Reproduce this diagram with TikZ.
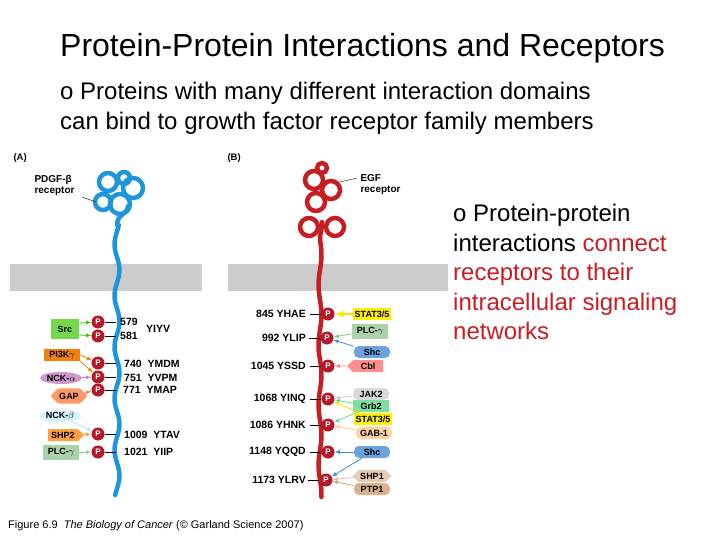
\documentclass[tikz,border=0pt]{standalone}
\usepackage{fontspec}
\setmainfont{Liberation Sans}
\usetikzlibrary{shapes,positioning}
\definecolor{pdgf}{RGB}{30,150,220}
\definecolor{egf}{RGB}{200,30,35}
\definecolor{pred}{RGB}{180,25,40}
\tikzset{
  phos/.style={circle,fill=pred,text=white,inner sep=0pt,minimum size=13pt,font=\fontsize{8}{8}\selectfont\bfseries},
  dom/.style={rounded corners=2pt,inner sep=1.5pt,minimum width=36pt,minimum height=12pt,font=\fontsize{9}{9}\selectfont\bfseries},
  site/.style={font=\fontsize{10.5}{11}\selectfont\bfseries,inner sep=1pt},
  body/.style={font=\fontsize{24}{29.5}\selectfont,align=left,anchor=north west,inner sep=0pt},
  memb/.style={fill=black!20,draw=none},
  coil/.style={line width=4.5pt,line cap=round},
  tie/.style={line width=1pt}
}
\begin{document}
\begin{tikzpicture}[x=1pt,y=-1pt,>=latex]
    \useasboundingbox (0,0) rectangle (720,540);
    % headings
    \node[anchor=west,inner sep=0pt,font=\fontsize{32}{36}\selectfont] (title) at (60,48) {Protein-Protein Interactions and Receptors};
    \node[body] (intro) at (60,82) {o Proteins with many different interaction domains\\can bind to growth factor receptor family members};
    \node[body] (side) at (453,204) {o Protein-protein\\interactions \textcolor{egf}{connect}\\\textcolor{egf}{receptors to their}\\\textcolor{egf}{intracellular signaling}\\\textcolor{egf}{networks}};
    \node[anchor=west,inner sep=0pt,font=\fontsize{11}{12}\selectfont] (cap) at (8,526) {Figure 6.9 \ \textit{The Biology of Cancer} (\textcopyright\ Garland Science 2007)};

    % membranes
    \fill[memb] (10,264) rectangle (202,291);
    \fill[memb] (228,264) rectangle (448,291);

    % panel A: PDGF-beta receptor
    \node[anchor=west,font=\fontsize{9.5}{10}\selectfont\bfseries] (lblA) at (10,158) {(A)};
    \node[anchor=west,align=left,font=\fontsize{10}{11}\selectfont\bfseries] (pdgf) at (31,185) {PDGF-β\\receptor};
    \draw[pdgf,coil] plot[smooth,domain=225:495,samples=80] ({117+2.5*sin(\x*7)},\x);
    \draw[pdgf,coil] (117,225) .. controls (117,214) and (128,214) .. (128,206);
    \draw[pdgf,coil] (108,182) circle (9);
    \draw[pdgf,coil] (133,188) circle (10);
    \draw[pdgf,coil] (120,204) circle (10);
    \draw[pdgf,coil] (103,202) circle (8);
    \draw[pdgf,coil] (124,178) circle (6);
    \draw (82,197) -- (96,202);

    \node[phos] (a1) at (98,322) {P};
    \node[phos] (a2) at (98,336) {P};
    \node[phos] (a3) at (98,363) {P};
    \node[phos] (a4) at (98,377) {P};
    \node[phos] (a5) at (98,390) {P};
    \node[phos] (a6) at (98,434) {P};
    \node[phos] (a7) at (98,452) {P};
    \foreach \p in {a1,a2,a3,a4,a5,a6,a7} \draw[tie] (\p) -- ++(18,0);
    \node[site,anchor=west] (s579) at (119,322) {579};
    \node[site,anchor=west] (s581) at (119,336) {581};
    \node[site,anchor=west] (yiyv) at (145,329) {YIYV};
    \node[site,anchor=west] (s740) at (123,364) {740 \ YMDM};
    \node[site,anchor=west] (s751) at (123,378) {751 \ YVPM};
    \node[site,anchor=west] (s771) at (122,390) {771 \ YMAP};
    \node[site,anchor=west] (s1009) at (123,435) {1009 \ YTAV};
    \node[site,anchor=west] (s1021) at (123,452) {1021 \ YIIP};

    \node[dom,fill=green!55!olive!70,minimum width=28pt,minimum height=20pt,rounded corners=0pt] (src) at (65,329) {Src};
    \node[dom,fill=orange!80!brown,rounded corners=0pt] (pi3k) at (62,355) {PI3K$\gamma$};
    \node[dom,fill=violet!40,ellipse,inner sep=0pt,minimum width=42pt] (ncka) at (61,378) {NCK-$\alpha$};
    \node[dom,fill=red!35!orange!60,chamfered rectangle,inner sep=1pt] (gap) at (69,396) {GAP};
    \node[dom,fill=cyan!15,ellipse,inner sep=0pt,minimum width=42pt] (nckb) at (60,416) {NCK-$\beta$};
    \node[dom,fill=orange!75,signal,signal to=east,rounded corners=0pt] (shp2a) at (63,435) {SHP2};
    \node[dom,fill=green!30!gray!50,rounded corners=0pt,minimum height=15pt] (plcga) at (61,452) {PLC-$\gamma$};
    \draw[->,green!55!olive,thick] (src.east) ++(0,-6) -- (a1);
    \draw[->,green!55!olive,thick] (src.east) ++(0,6) -- (a2);
    \draw[->,orange!80!brown,thick] (pi3k.east) -- (a3);
    \draw[->,orange!80!brown,thick] (pi3k.south east) -- (a4);
    \draw[->,violet!50,thick] (ncka) -- (a4);
    \draw[->,red!35!orange!70,thick] (gap) -- (a5);
    \draw[->,cyan!30,thick] (nckb) -- (a6);
    \draw[->,orange!75,thick] (shp2a) -- (a6);
    \draw[->,green!30!gray!60,thick] (plcga) -- (a7);

    % panel B: EGF receptor
    \node[anchor=west,font=\fontsize{9.5}{10}\selectfont\bfseries] (lblB) at (224,158) {(B)};
    \node[anchor=west,align=left,font=\fontsize{10}{11}\selectfont\bfseries] (egflbl) at (357,185) {EGF\\receptor};
    \draw[egf,coil] plot[smooth,domain=240:497,samples=80] ({320+1.5*sin(\x*6)},\x);
    \draw[egf,coil] (320,240) .. controls (320,232) and (322,230) .. (322,222);
    \draw[egf,coil] (314,180) circle (9);
    \draw[egf,coil] (331,190) circle (9);
    \draw[egf,coil] (316,202) circle (9);
    \draw[egf,coil] (309,227) circle (9);
    \draw[egf,coil] (335,227) circle (9);
    \draw[egf,coil] (322,168) circle (5);
    \draw (340,182) -- (357,178);

    \node[phos] (b1) at (328,314) {P};
    \node[phos] (b2) at (327,338) {P};
    \node[phos] (b3) at (328,366) {P};
    \node[phos] (b4) at (328,399) {P};
    \node[phos] (b5) at (328,425) {P};
    \node[phos] (b6) at (328,452) {P};
    \node[phos] (b7) at (326,480) {P};
    \foreach \p in {b1,b2,b3,b4,b5,b6,b7} \draw[tie] (\p) -- ++(-18,0);
    \node[site,anchor=east] (s845) at (307,314) {845 YHAE};
    \node[site,anchor=east] (s992) at (307,338) {992 YLIP};
    \node[site,anchor=east] (s1045) at (307,366) {1045 YSSD};
    \node[site,anchor=east] (s1068) at (307,399) {1068 YINQ};
    \node[site,anchor=east] (s1086) at (307,425) {1086 YHNK};
    \node[site,anchor=east] (s1148) at (307,452) {1148 YQQD};
    \node[site,anchor=east] (s1173) at (307,480) {1173 YLRV};

    \node[dom,fill=yellow,rounded corners=0pt] (stat1) at (372,314) {STAT3/5};
    \node[dom,fill=green!30!gray!50,rounded corners=0pt,minimum height=15pt] (plcgb) at (370,331) {PLC-$\gamma$};
    \node[dom,fill=cyan!60!blue!60,rounded corners=5pt] (shc1) at (372,352) {Shc};
    \node[dom,fill=red!25!pink,signal,signal to=west,rounded corners=0pt] (cbl) at (368,366) {Cbl};
    \node[dom,fill=gray!30,rounded corners=5pt] (jak2) at (371,394) {JAK2};
    \node[dom,fill=teal!50!green!50,rounded corners=0pt] (grb2) at (371,406) {Grb2};
    \node[dom,fill=yellow,rounded corners=0pt] (stat2) at (373,419) {STAT3/5};
    \node[dom,fill=orange!35,rounded corners=5pt] (gab1) at (374,433) {GAB-1};
    \node[dom,fill=cyan!60!blue!60,rounded corners=5pt] (shc2) at (372,452) {Shc};
    \node[dom,fill=brown!40,signal,signal to=east and west,rounded corners=0pt] (shp1) at (372,476) {SHP1};
    \node[dom,fill=brown!60,rounded corners=5pt] (ptp1) at (372,489) {PTP1};
    \draw[->,yellow!90!orange,line width=2pt] (stat1) -- (b1);
    \draw[->,green!40!gray!70,thick] (plcgb) -- (b2);
    \draw[->,cyan!60!blue!80,thick] (shc1) -- (b2);
    \draw[->,red!35!pink,thick] (cbl) -- (b3);
    \draw[->,gray!40,thick] (jak2) -- (b4);
    \draw[->,teal!50!green!60,thick] (grb2) -- (b4);
    \draw[->,teal!50!green!60,thick] (grb2) -- (b5);
    \draw[->,yellow!90!orange,thick] (stat2) -- (b4);
    \draw[->,orange!45,thick] (gab1) -- (b5);
    \draw[->,cyan!60!blue!80,thick] (shc2) -- (b6);
    \draw[->,cyan!60!blue!80,thick] (shc2) -- (b7);
    \draw[->,brown!50,thick] (shp1) -- (b7);
    \draw[->,brown!70,thick] (ptp1) -- (b7);
\end{tikzpicture}
\end{document}
